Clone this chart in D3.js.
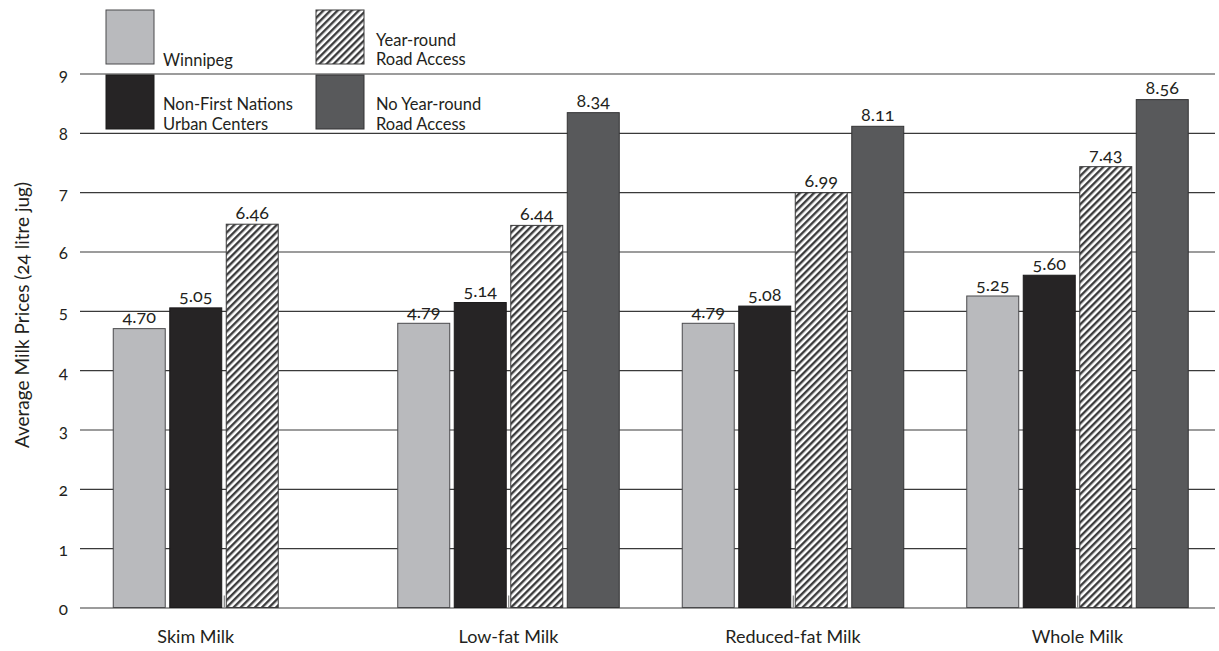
<!DOCTYPE html>
<html>
<head>
<meta charset="utf-8">
<script src="https://cdn.jsdelivr.net/npm/d3@7"></script>
<style>
  body { margin: 0; background: #fff; }
  svg text {
    font-family: Lato, "Open Sans", sans-serif;
    font-variant-numeric: oldstyle-nums;
    font-feature-settings: "onum" 1;
    fill: #231f20;
  }
</style>
</head>
<body>
<svg id="chart" width="1219" height="651"></svg>
<script>
// Average milk prices by community type
const categories = ["Skim Milk", "Low-fat Milk", "Reduced-fat Milk", "Whole Milk"];
const seriesKeys = ["winnipeg", "nonFirstNations", "yearRoundRoad", "noYearRoundRoad"];
const seriesLabels = [["Winnipeg"], ["Non-First Nations", "Urban Centers"], ["Year-round", "Road Access"], ["No Year-round", "Road Access"]];
const winnipeg = [4.70, 4.79, 4.79, 5.25];
const nonFirstNations = [5.05, 5.14, 5.08, 5.60];
const yearRoundRoad = [6.46, 6.44, 6.99, 7.43];
const noYearRoundRoad = [null, 8.34, 8.11, 8.56];
const yTicks = [0, 1, 2, 3, 4, 5, 6, 7, 8, 9];
const yTitle = "Average Milk Prices (24 litre jug)";

const seriesValues = { winnipeg, nonFirstNations, yearRoundRoad, noYearRoundRoad };

const svg = d3.select("#chart");

// Pattern for the diagonal-hatched series
const defs = svg.append("defs");
const hatch = defs.append("pattern")
  .attr("id", "hatch")
  .attr("patternUnits", "userSpaceOnUse")
  .attr("width", 5)
  .attr("height", 5)
  .attr("patternTransform", "rotate(45)");
hatch.append("rect").attr("width", 5).attr("height", 5).attr("fill", "#ffffff");
hatch.append("rect").attr("width", 2.4).attr("height", 5).attr("fill", "#3d3d3e");

const fills = {
  winnipeg: "#b9babd",
  nonFirstNations: "#262425",
  yearRoundRoad: "url(#hatch)",
  noYearRoundRoad: "#58595b"
};
const strokes = {
  winnipeg: "#4a4a4c",
  nonFirstNations: "#1b1a1b",
  yearRoundRoad: "#3a3a3b",
  noYearRoundRoad: "#333334"
};

const gridLeft = 80, gridRight = 1215;

const y = d3.scaleLinear().domain([0, 9]).range([607.5, 73.5]);
const x0 = d3.scaleBand().domain(categories).range([82, 1220]);
const x1 = d3.scaleBand().domain(seriesKeys).range([-111, 110.5]).paddingInner(0.08);

// Horizontal grid + y tick labels
const yAxis = svg.append("g")
  .attr("transform", `translate(${gridLeft},0)`)
  .call(d3.axisLeft(y).tickValues(yTicks).tickSize(-(gridRight - gridLeft)).tickPadding(12).tickFormat(d3.format("d")));
yAxis.select(".domain").remove();
yAxis.selectAll(".tick line").attr("stroke", "#3a3a3a").attr("stroke-width", 1.1);
yAxis.selectAll(".tick text")
  .attr("font-size", 17)
  .attr("dy", "0.42em")
  .style("font-family", "Lato, 'Open Sans', sans-serif");

// Bars
const groups = svg.append("g").selectAll("g")
  .data(categories)
  .join("g")
  .attr("transform", d => `translate(${x0(d) + x0.bandwidth() / 2},0)`);

const barData = (c, i) => seriesKeys
  .map(k => ({ key: k, value: seriesValues[k][i] }))
  .filter(d => d.value != null);

groups.selectAll("rect")
  .data(barData)
  .join("rect")
  .attr("x", d => x1(d.key))
  .attr("y", d => y(d.value))
  .attr("width", x1.bandwidth())
  .attr("height", d => y(0) - y(d.value))
  .attr("fill", d => fills[d.key])
  .attr("stroke", d => strokes[d.key])
  .attr("stroke-width", 1);

// Value labels
groups.selectAll("text.value")
  .data(barData)
  .join("text")
  .attr("class", "value")
  .attr("x", d => x1(d.key) + x1.bandwidth() / 2)
  .attr("y", d => y(d.value) - 5.5)
  .attr("text-anchor", "middle")
  .attr("font-size", 18)
  .text(d => d.value.toFixed(2));

// Small inward ticks at category centres
const xAxis = svg.append("g")
  .attr("transform", `translate(0,${y(0)})`)
  .call(d3.axisBottom(x0).tickSize(-12).tickSizeOuter(0).tickFormat(""));
xAxis.select(".domain").remove();
xAxis.selectAll(".tick line").attr("stroke", "#6a6a6a").attr("stroke-width", 1);

// Category labels, centred under the bars present in each group
groups.append("text")
  .attr("x", (c, i) => {
    const bars = barData(c, i);
    const first = x1(bars[0].key);
    const last = x1(bars[bars.length - 1].key) + x1.bandwidth();
    return (first + last) / 2;
  })
  .attr("y", 643)
  .attr("text-anchor", "middle")
  .attr("font-size", 18)
  .text(d => d);

// Y axis title
svg.append("text")
  .attr("transform", "translate(21,315) rotate(-90)")
  .attr("text-anchor", "middle")
  .attr("dominant-baseline", "central")
  .attr("font-size", 19)
  .text(yTitle);

// Legend (2 x 2)
const legendPos = [
  { box: [106, 10], text: [163, 66] },
  { box: [106, 75], text: [163, 110] },
  { box: [316, 10], text: [376, 45.5] },
  { box: [316, 75], text: [376, 110] }
];
const legend = svg.append("g")
  .selectAll("g")
  .data(seriesKeys)
  .join("g");
legend.append("rect")
  .attr("x", (d, i) => legendPos[i].box[0])
  .attr("y", (d, i) => legendPos[i].box[1])
  .attr("width", 48)
  .attr("height", 54)
  .attr("fill", d => fills[d])
  .attr("stroke", d => strokes[d])
  .attr("stroke-width", 1);
legend.append("text")
  .attr("x", (d, i) => legendPos[i].text[0])
  .attr("y", (d, i) => legendPos[i].text[1])
  .attr("font-size", 16.5)
  .selectAll("tspan")
  .data((d, i) => seriesLabels[i])
  .join("tspan")
  .attr("x", function () { return this.parentNode.getAttribute("x"); })
  .attr("dy", (d, j) => j === 0 ? 0 : 19.8)
  .text(d => d);
</script>
</body>
</html>
